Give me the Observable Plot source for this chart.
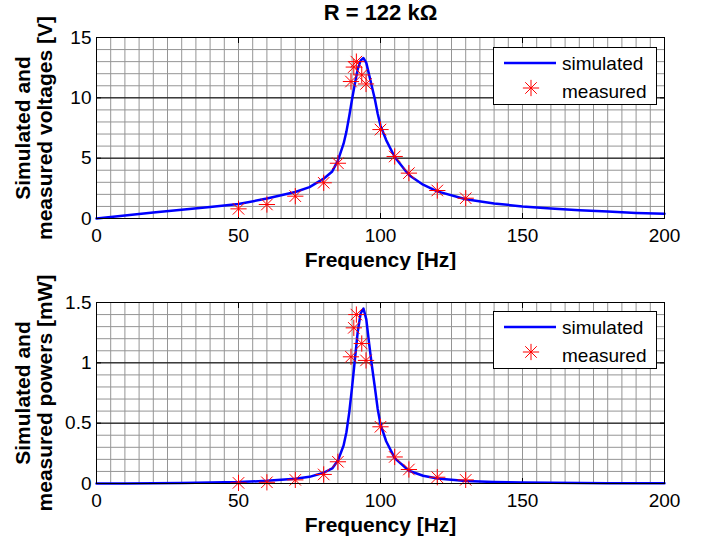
<!DOCTYPE html>
<html><head><meta charset="utf-8">
<script src="https://cdn.jsdelivr.net/npm/d3@7"></script>
<script src="https://cdn.jsdelivr.net/npm/@observablehq/plot@0.6"></script>
<style>
body{margin:0;background:#fff;}
#wrap{position:relative;width:704px;height:539px;font-family:"Liberation Sans",Arial,Helvetica,sans-serif;}
#wrap > * {position:absolute;left:0;}
</style></head><body><div id="wrap"></div>
<script>
const titleText = "R = 122 kΩ";
const xTicks = [0, 50, 100, 150, 200];
const voltageTicks = [0, 5, 10, 15];
const powerTicks = [0, 0.5, 1, 1.5];
const seriesNames = ["simulated", "measured"];

const simFreq = [0,10,20,30,40,50,60,70,75,80,83,85,87,88,89,90,91,92,93,94,95,96,97,98,99,100,102,105,110,115,120,130,140,150,160,170,180,190,200];
const simVoltage = [0,0.25,0.5,0.72,0.95,1.2,1.65,2.2,2.6,3.3,3.9,4.8,6.2,7.2,8.5,9.9,11.2,12.4,13.1,13.3,12.9,11.9,10.9,9.9,8.7,7.7,6.5,5.1,3.6,2.8,2.25,1.6,1.25,1.0,0.83,0.69,0.57,0.46,0.4];
const simPower = [0,0.0005,0.002,0.004,0.0074,0.012,0.022,0.04,0.055,0.089,0.125,0.19,0.315,0.425,0.59,0.8,1.03,1.26,1.41,1.45,1.36,1.16,0.97,0.8,0.62,0.49,0.35,0.21,0.106,0.064,0.041,0.021,0.0128,0.0082,0.0056,0.0039,0.0027,0.0017,0.0013];

const measFreq = [50,60,70,80,85,89.6,90.6,91.5,93.4,94.9,100,105,110,120,130];
const measVoltage = [0.8,1.16,1.85,2.96,4.58,11.35,12.55,13.0,11.9,11.15,7.37,5.14,3.76,2.32,1.68];
const measPower = [0.005,0.01,0.03,0.075,0.18,1.05,1.29,1.40,1.16,1.02,0.47,0.22,0.116,0.052,0.03];

const FONT = '"Liberation Sans",Arial,Helvetica,sans-serif';
const BLUE = "#0000ff", RED = "#ff0000";
const MR = 5.3;

function panel({sim, meas, yMax, yTicks, minorStep, majorLines, ylabel, height, marginTop, marginBottom, title}) {
  const simData = simFreq.map((f, i) => ({f, v: sim[i]}));
  const measData = measFreq.map((f, i) => ({f, v: meas[i]}));
  const xMinor = d3.range(5, 200, 5);
  const yMinor = d3.range(1, Math.round(yMax / minorStep)).map(k => +(k * minorStep).toFixed(4));
  const marks = [
    Plot.ruleX(xMinor, {x: d => d, stroke: "#959595", strokeWidth: 1}),
    Plot.ruleY(yMinor, {y: d => d, stroke: "#959595", strokeWidth: 1}),
    Plot.ruleY(majorLines, {y: d => d, stroke: "#000", strokeWidth: 1}),
    Plot.axisX({anchor: "bottom", ticks: xTicks, tickSize: -5, tickFormat: () => "", label: null}),
    Plot.axisX({anchor: "top", ticks: xTicks, tickSize: -5, tickFormat: () => "", label: null}),
    Plot.axisY({anchor: "left", ticks: yTicks, tickSize: -5, tickFormat: () => "", label: null}),
    Plot.axisY({anchor: "right", ticks: yTicks, tickSize: -5, tickFormat: () => "", label: null}),
    Plot.axisX({anchor: "bottom", ticks: xTicks, tickSize: 0, tickPadding: 10, label: null, fontSize: 19}),
    Plot.axisY({anchor: "left", ticks: yTicks, tickSize: 0, tickPadding: 5, label: null, fontSize: 19, tickFormat: d => String(d)}),
    Plot.line(simData, {x: "f", y: "v", stroke: BLUE, strokeWidth: 2.5}),
    Plot.dot(measData, {x: "f", y: "v", symbol: "plus", r: MR, stroke: RED, strokeWidth: 1}),
    Plot.dot(measData, {x: "f", y: "v", symbol: "times", r: MR, stroke: RED, strokeWidth: 1}),
    Plot.frame({stroke: "#000", strokeWidth: 1}),
    Plot.text(["Frequency [Hz]"], {frameAnchor: "bottom", dy: 48, lineAnchor: "bottom", fontWeight: "bold", fontSize: 21, fill: "#000"}),
    Plot.text([ylabel], {frameAnchor: "left", dx: -63, rotate: -90, textAnchor: "middle", lineAnchor: "middle", lineHeight: 1.05, fontWeight: "bold", fontSize: 21, fill: "#000"})
  ];
  if (title) marks.push(Plot.text([title], {frameAnchor: "top", dy: -18, lineAnchor: "bottom", fontWeight: "bold", fontSize: 22, fill: "#000"}));
  return Plot.plot({
    width: 704, height, marginLeft: 96, marginRight: 40, marginTop, marginBottom,
    style: {fontFamily: FONT, fontSize: "19px", color: "#000", background: "#fff", overflow: "visible"},
    x: {domain: [0, 200]},
    y: {domain: [0, yMax]},
    marks
  });
}

function legend(top) {
  const svg = d3.create("svg").attr("width", 164).attr("height", 58)
    .style("left", "493px").style("top", top + "px").style("overflow", "visible");
  svg.append("rect").attr("x", 0.5).attr("y", 0.5).attr("width", 163).attr("height", 57)
    .attr("fill", "#fff").attr("stroke", "#000");
  svg.append("line").attr("x1", 11).attr("x2", 63).attr("y1", 16).attr("y2", 16)
    .attr("stroke", BLUE).attr("stroke-width", 2.5);
  const g = svg.append("g").attr("transform", "translate(38,41)");
  g.append("path").attr("d", d3.symbol(d3.symbolPlus, Math.PI * MR * MR)()).attr("stroke", RED).attr("fill", "none");
  g.append("path").attr("d", d3.symbol(d3.symbolTimes, Math.PI * MR * MR)()).attr("stroke", RED).attr("fill", "none");
  svg.selectAll("text.l").data(seriesNames).join("text")
    .attr("x", 69).attr("y", (d, i) => 23 + i * 28)
    .attr("font-family", FONT).attr("font-size", 19).attr("fill", "#000")
    .text(d => d);
  return svg.node();
}

const wrap = document.getElementById("wrap");
const p1 = panel({sim: simVoltage, meas: measVoltage, yMax: 15, yTicks: voltageTicks, minorStep: 1, majorLines: [5, 10],
  ylabel: "Simulated and\nmeasured voltages [V]", height: 270, marginTop: 37, marginBottom: 52, title: titleText});
p1.style.top = "0px";
const p2 = panel({sim: simPower, meas: measPower, yMax: 1.5, yTicks: powerTicks, minorStep: 0.1, majorLines: [0.5, 1],
  ylabel: "Simulated and\nmeasured powers [mW]", height: 269, marginTop: 32, marginBottom: 56});
p2.style.top = "270px";
wrap.append(p1, p2, legend(47), legend(311));
</script></body></html>
